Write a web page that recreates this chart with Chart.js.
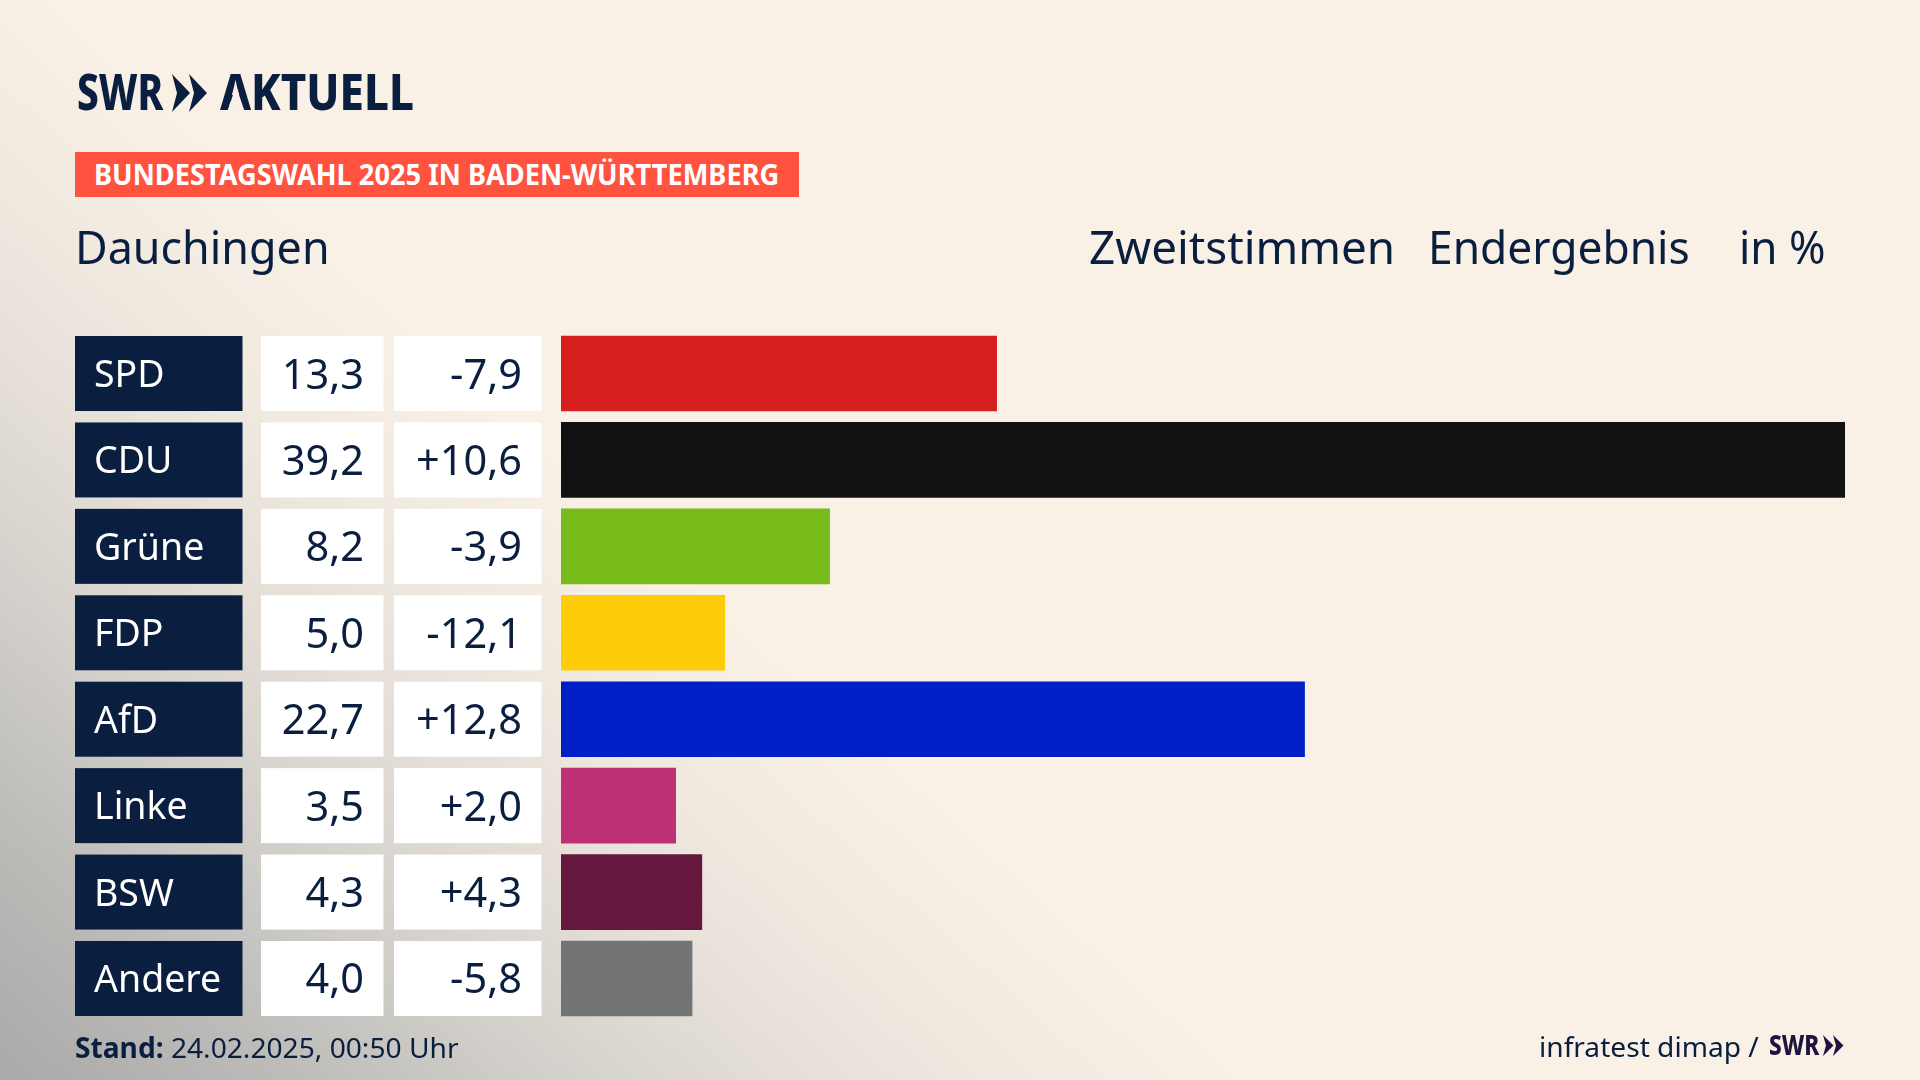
<!DOCTYPE html>
<html lang="de"><head><meta charset="utf-8">
<script src="https://cdn.jsdelivr.net/npm/chart.js@4"></script>
<style>
html,body{margin:0;padding:0;width:1920px;height:1080px;overflow:hidden;background:#f9f1e6}
#bg{position:absolute;inset:0;background:
 linear-gradient(42deg,#a9a9a9 0,#bdbcb9 200px,#d2cfca 361px,#e5dfd8 535px,#f0e9e0 669px,#f9f1e6 836px)}
canvas{position:absolute;left:0;top:0}
.t{position:absolute;white-space:nowrap;color:#0a1f3f;font-family:"Noto Sans",sans-serif;line-height:1;transform-origin:0 50%}
.logo{font-weight:800}
svg{position:absolute}
</style></head><body>
<div id="bg"></div>
<canvas id="c" width="1920" height="1080"></canvas>
<div class="t logo" data-w="86" style="left:77px;top:66px;font-size:50px;">SWR</div>
<svg style="left:172px;top:74px" width="36" height="38" viewBox="0 0 36 38"><path fill="#0a1f3f" d="M0 0L18 19 0 38 5 19zM17 0L35 19 17 38 22 19z"/></svg>
<div class="t logo" data-w="194" style="left:220px;top:66px;font-size:50px;">AKTUELL</div>
<svg style="left:220px;top:74px" width="34" height="37" viewBox="0 0 34 37"><path fill="#f8f0e6" d="M16 12L24.500 37H7.500z"/></svg>
<div style="position:absolute;left:75px;top:152px;width:724px;height:45px;background:#ff5340"></div>
<div class="t" data-w="685" style="left:94px;top:160px;font-size:28px;font-weight:700;color:#fff">BUNDESTAGSWAHL 2025 IN BADEN-WÜRTTEMBERG</div>
<div class="t" data-w="255" style="left:75px;top:224px;font-size:45px">Dauchingen</div>
<div class="t" data-w="306" style="left:1089px;top:224px;font-size:45px">Zweitstimmen</div>
<div class="t" data-w="262" style="left:1428px;top:224px;font-size:45px">Endergebnis</div>
<div class="t" data-w="87" style="left:1739px;top:224px;font-size:45px">in %</div>
<div class="t" data-w="384" style="left:75px;top:1033px;font-size:28px"><b>Stand:</b> 24.02.2025, 00:50 Uhr</div>
<div class="t" data-w="220" style="left:1539px;top:1032px;font-size:28px">infratest dimap /</div>
<div class="t logo" data-w="50" style="left:1769px;top:1030px;font-size:28px;color:#1f1440">SWR</div>
<svg style="left:1823px;top:1035px" width="21" height="21" viewBox="0 0 21 21"><path fill="#1f1440" d="M0 0L10.500 10.500 0 21 3 10.500zM10 0L20.500 10.500 10 21 13 10.500z"/></svg>
<script>
const parties=["SPD","CDU","Grüne","FDP","AfD","Linke","BSW","Andere"];
const shares=[13.3,39.2,8.2,5.0,22.7,3.5,4.3,4.0];
const changes=["-7,9","+10,6","-3,9","-12,1","+12,8","+2,0","+4,3","-5,8"];
const colors=["#d71f1d","#121212","#78bc1b","#ffcc0a","#001fc6","#bd3075","#66173e","#737476"];
const fmt=v=>v.toFixed(1).replace(".",",");
const NAVY="#0a1f3f";
document.querySelectorAll("[data-w]").forEach(e=>{
  e.style.transform="scaleX("+(e.dataset.w/e.offsetWidth)+")";
});
const table={id:"table",beforeDatasetsDraw(ch){
  const g=ch.ctx,y=ch.scales.y,h=75;
  g.save();g.textBaseline="alphabetic";
  parties.forEach((p,i)=>{
    const c=y.getPixelForValue(i),t=c-h/2;
    g.fillStyle=NAVY;g.fillRect(75,t,167.5,h);
    g.fillStyle="#fff";g.fillRect(261,t,122.5,h);g.fillRect(394,t,147.5,h);
    g.font='37.500px "Noto Sans"';g.textAlign="left";g.fillStyle="#fff";g.fillText(p,94,c+13.5);
    g.font='41.500px "Noto Sans"';g.textAlign="right";g.fillStyle=NAVY;
    g.fillText(fmt(shares[i]),364,c+15);g.fillText(changes[i],522,c+15);
  });
  g.restore();
}};
new Chart(document.getElementById("c"),{
  type:"bar",
  data:{labels:parties,datasets:[{data:shares,backgroundColor:colors,barThickness:75,borderWidth:0}]},
  options:{indexAxis:"y",responsive:false,animation:false,devicePixelRatio:1,
    layout:{padding:{left:561,right:75,top:330.3,bottom:58.3}},
    plugins:{legend:{display:false},tooltip:{enabled:false}},
    scales:{x:{display:false,min:0,max:39.2},y:{display:false}}},
  plugins:[table]
});
</script></body></html>
